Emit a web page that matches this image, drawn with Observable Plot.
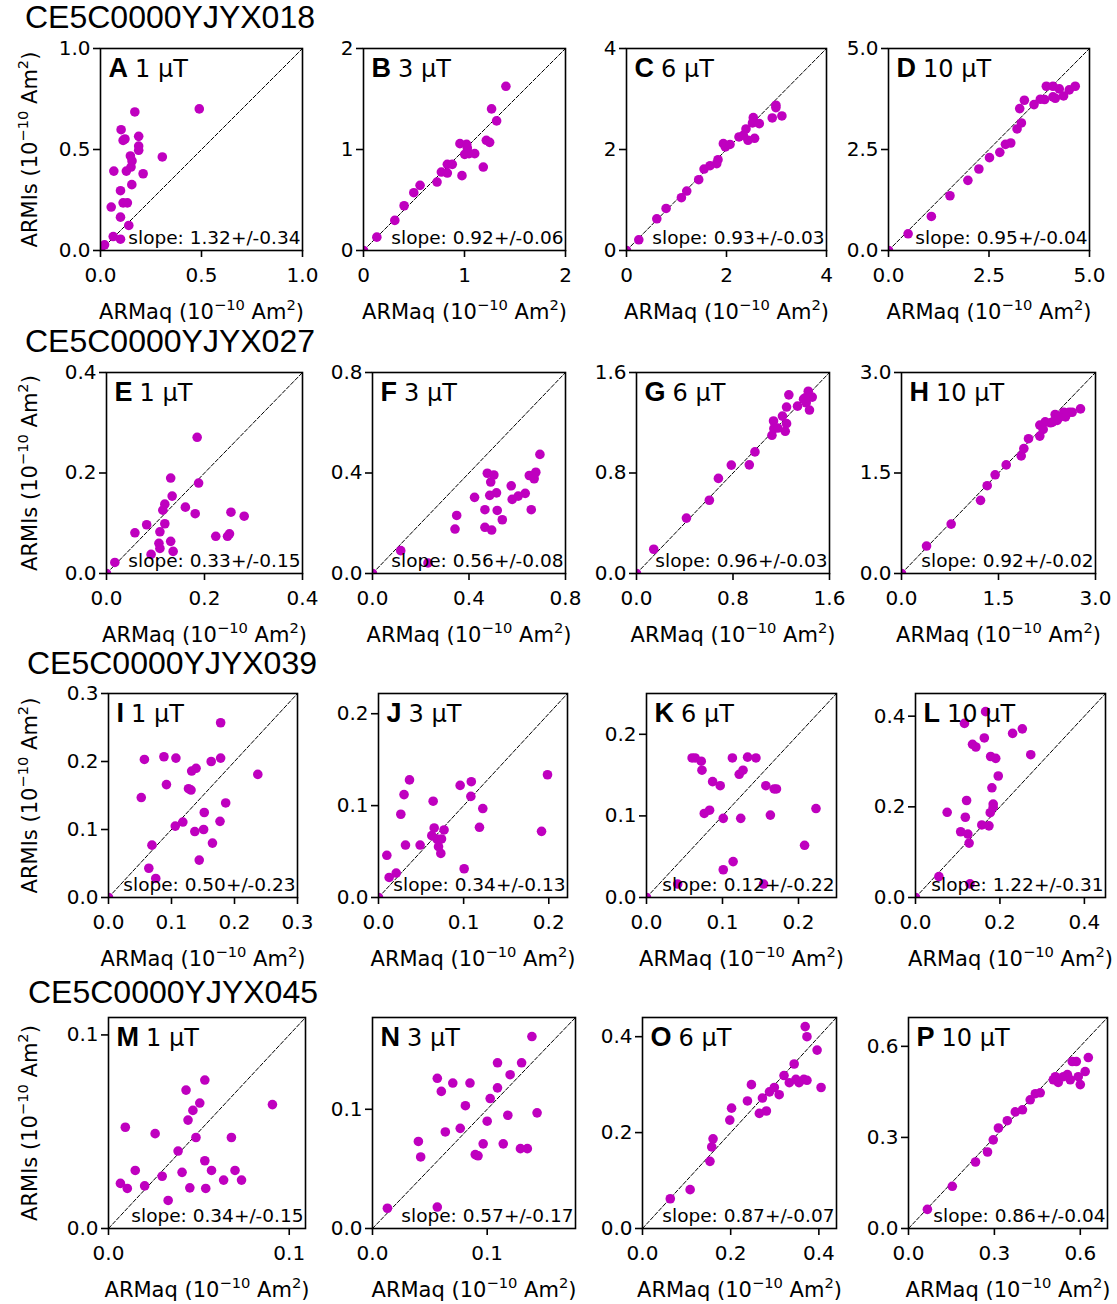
<!DOCTYPE html>
<html><head><meta charset="utf-8">
<script src="https://cdn.jsdelivr.net/npm/d3@7"></script>
<script src="https://cdn.jsdelivr.net/npm/@observablehq/plot@0.6"></script>
<style>
body{margin:0;background:#fff;}
#root{position:relative;width:1117px;height:1304px;overflow:hidden;background:#fff;}
.title{position:absolute;font-family:"Liberation Sans",Arial,sans-serif;font-size:32px;line-height:0.75;white-space:nowrap;color:#000;}
.panel{position:absolute;}
</style></head><body><div id="root"></div>
<script>
// ---------- data ----------
const samples = ["CE5C0000YJYX018", "CE5C0000YJYX027", "CE5C0000YJYX039", "CE5C0000YJYX045"];
const letters = ["A","B","C","D","E","F","G","H","I","J","K","L","M","N","O","P"];
const fields = [1, 3, 6, 10];
const slopes = ["1.32+/-0.34","0.92+/-0.06","0.93+/-0.03","0.95+/-0.04",
                "0.33+/-0.15","0.56+/-0.08","0.96+/-0.03","0.92+/-0.02",
                "0.50+/-0.23","0.34+/-0.13","0.12+/-0.22","1.22+/-0.31",
                "0.34+/-0.15","0.57+/-0.17","0.87+/-0.07","0.86+/-0.04"];
const limits = [1, 2, 4, 5, 0.4, 0.8, 1.6, 3, 0.3, 0.222, 0.25, 0.45, 0.109, 0.177, 0.44, 0.695];
const tickValues = [[0,0.5,1],[0,1,2],[0,2,4],[0,2.5,5],
                    [0,0.2,0.4],[0,0.4,0.8],[0,0.8,1.6],[0,1.5,3],
                    [0,0.1,0.2,0.3],[0,0.1,0.2],[0,0.1,0.2],[0,0.2,0.4],
                    [0,0.1],[0,0.1],[0,0.2,0.4],[0,0.3,0.6]];
const tickFormats = [".1f","d","d",".1f",".1f",".1f",".1f",".1f",".1f",".1f",".1f",".1f",".1f",".1f",".1f",".1f"];
// label pieces: [text, isSuperscript]
const xLabelParts = [["ARMaq (10", false], ["\u221210", true], [" Am", false], ["2", true], [")", false]];
const yLabelParts = [["ARMIs (10", false], ["\u221210", true], [" Am", false], ["2", true], [")", false]];
const xLabel = xLabelParts.map(p => p[0]).join("");
const yLabel = yLabelParts.map(p => p[0]).join("");

const aX = [0,0.02,0.063,0.099,0.066,0.053,0.099,0.099,0.102,0.112,0.121,0.112,0.133,0.140,0.128,0.148,0.156,0.151,0.155,0.170,0.189,0.189,0.189,0.211,0.306,0.489];
const aY = [0,0.028,0.069,0.056,0.393,0.215,0.165,0.296,0.598,0.545,0.552,0.236,0.236,0.124,0.393,0.468,0.443,0.413,0.326,0.686,0.565,0.517,0.496,0.380,0.463,0.701];
const bX = [0,0.132,0.31,0.402,0.498,0.56,0.728,0.771,0.83,0.83,0.879,0.975,0.955,1.021,1.028,1.002,1.045,1.101,1.186,1.216,1.249,1.268,1.318,1.41];
const bY = [0,0.132,0.298,0.443,0.572,0.645,0.678,0.777,0.853,0.767,0.853,0.741,1.058,1.051,1.015,0.952,0.959,0.959,0.826,1.091,1.071,1.402,1.283,1.626];
const cX = [0,0.246,0.606,0.792,1.098,1.205,1.444,1.551,1.671,1.804,1.830,1.937,1.977,2.07,2.25,2.336,2.39,2.43,2.562,2.536,2.52,2.656,2.915,2.988,2.988,3.108];
const cY = [0,0.212,0.628,0.833,1.045,1.177,1.402,1.613,1.679,1.719,1.798,2.116,2.05,2.10,2.248,2.281,2.407,2.182,2.222,2.631,2.526,2.512,2.625,2.876,2.83,2.664];
const dX = [0,0.488,1.066,1.529,1.975,2.248,2.512,2.769,2.909,3.041,3.198,3.306,3.264,3.38,3.62,3.777,3.884,3.926,4.091,4.091,4.149,4.248,4.355,4.496,4.645];
const dY = [0,0.413,0.843,1.355,1.736,2.017,2.298,2.43,2.628,2.661,3.008,3.157,3.512,3.719,3.612,3.744,3.736,4.066,4.066,3.802,3.769,4.0,3.826,3.975,4.066];
const eX = [0,0.017,0.058,0.082,0.091,0.107,0.109,0.109,0.115,0.119,0.119,0.131,0.131,0.134,0.136,0.161,0.181,0.185,0.188,0.223,0.247,0.251,0.254,0.281];
const eY = [0,0.022,0.081,0.097,0.038,0.060,0.083,0.050,0.126,0.138,0.099,0.190,0.064,0.154,0.044,0.132,0.119,0.271,0.180,0.074,0.074,0.079,0.122,0.114];
const fX = [0,0.117,0.23,0.342,0.349,0.423,0.466,0.466,0.476,0.486,0.49,0.494,0.503,0.514,0.517,0.538,0.575,0.579,0.604,0.633,0.658,0.65,0.669,0.677,0.67,0.694];
const fY = [0,0.091,0.042,0.177,0.231,0.303,0.254,0.184,0.399,0.311,0.364,0.173,0.392,0.321,0.251,0.214,0.349,0.295,0.308,0.319,0.254,0.39,0.39,0.403,0.377,0.474];
const gX = [0,0.143,0.414,0.604,0.679,0.786,0.935,0.982,1.123,1.136,1.139,1.172,1.21,1.233,1.244,1.244,1.263,1.335,1.385,1.407,1.424,1.434,1.457,1.399];
const gY = [0,0.193,0.441,0.583,0.757,0.863,0.865,0.968,1.100,1.214,1.153,1.158,1.253,1.132,1.193,1.325,1.422,1.332,1.388,1.359,1.451,1.301,1.404,1.398];
const hX = [0,0.387,0.768,1.222,1.325,1.448,1.619,1.851,1.892,1.964,2.139,2.139,2.191,2.222,2.304,2.335,2.376,2.407,2.438,2.510,2.536,2.593,2.639,2.768];
const hY = [0,0.41,0.737,1.092,1.31,1.473,1.621,1.755,1.864,2.012,2.051,2.215,2.150,2.264,2.249,2.259,2.373,2.284,2.328,2.407,2.338,2.407,2.407,2.457];
const iX = [0,0.064,0.069,0.075,0.052,0.057,0.088,0.092,0.107,0.106,0.118,0.127,0.131,0.132,0.139,0.137,0.144,0.151,0.152,0.163,0.165,0.177,0.178,0.178,0.186,0.237];
const iY = [0,0.043,0.077,0.028,0.147,0.203,0.207,0.166,0.205,0.105,0.111,0.160,0.158,0.186,0.190,0.097,0.055,0.100,0.125,0.200,0.080,0.112,0.205,0.257,0.139,0.181];
const jX = [0,0.0098,0.0125,0.0208,0.0262,0.030,0.0317,0.0364,0.0489,0.0642,0.0626,0.0654,0.0685,0.0705,0.0732,0.074,0.077,0.1006,0.0959,0.1085,0.109,0.1186,0.1225,0.1915,0.1985];
const jY = [0,0.0459,0.0218,0.0266,0.0906,0.112,0.0571,0.128,0.0571,0.1048,0.0673,0.0757,0.0637,0.0553,0.048,0.0637,0.0735,0.0313,0.122,0.110,0.126,0.0764,0.0968,0.072,0.1336];
const kX = [0,0.041,0.060,0.064,0.072,0.073,0.076,0.083,0.087,0.097,0.101,0.101,0.113,0.114,0.122,0.124,0.127,0.133,0.144,0.157,0.154,0.163,0.168,0.171,0.208,0.223];
const kY = [0,0.0165,0.171,0.171,0.167,0.156,0.103,0.107,0.142,0.137,0.097,0.034,0.171,0.044,0.151,0.097,0.156,0.172,0.171,0.137,0.0165,0.101,0.133,0.133,0.064,0.109];
const lX = [0,0.0554,0.075,0.107,0.116,0.118,0.121,0.124,0.127,0.129,0.135,0.143,0.157,0.163,0.166,0.174,0.177,0.178,0.181,0.184,0.184,0.190,0.196,0.230,0.253,0.273];
const lY = [0,0.046,0.188,0.145,0.384,0.177,0.214,0.14,0.12,0.03,0.338,0.332,0.16,0.352,0.41,0.158,0.187,0.311,0.242,0.206,0.199,0.307,0.268,0.362,0.372,0.315];
const mX = [0.0066,0.0093,0.0104,0.0148,0.020,0.0258,0.0297,0.033,0.0385,0.0407,0.0429,0.044,0.045,0.0467,0.0484,0.0505,0.0533,0.0533,0.0538,0.057,0.0637,0.068,0.070,0.0736,0.0907];
const mY = [0.0233,0.0523,0.0207,0.030,0.022,0.049,0.027,0.0145,0.040,0.029,0.0715,0.056,0.021,0.061,0.047,0.0648,0.0767,0.035,0.0207,0.030,0.025,0.047,0.030,0.025,0.064];
const nX = [0.013,0.040,0.042,0.0565,0.0565,0.060,0.0635,0.070,0.0765,0.081,0.085,0.0896,0.092,0.0965,0.100,0.1026,0.109,0.109,0.114,0.118,0.120,0.129,0.135,0.130,0.139,0.1435];
const nY = [0.017,0.073,0.060,0.018,0.126,0.115,0.081,0.122,0.084,0.103,0.122,0.062,0.061,0.071,0.090,0.109,0.118,0.139,0.071,0.095,0.129,0.067,0.067,0.139,0.161,0.097];
const oX = [0.063,0.108,0.153,0.157,0.160,0.198,0.202,0.238,0.247,0.265,0.272,0.281,0.288,0.299,0.310,0.321,0.333,0.344,0.348,0.355,0.366,0.369,0.373,0.373,0.396,0.405];
const oY = [0.062,0.081,0.140,0.170,0.187,0.226,0.251,0.266,0.300,0.240,0.272,0.245,0.285,0.294,0.279,0.319,0.304,0.343,0.311,0.304,0.311,0.421,0.400,0.309,0.372,0.294];
const pX = [0.066,0.153,0.234,0.276,0.296,0.314,0.345,0.373,0.398,0.425,0.443,0.460,0.506,0.513,0.523,0.541,0.555,0.572,0.586,0.593,0.600,0.617,0.628,0.565];
const pY = [0.063,0.139,0.219,0.252,0.292,0.331,0.355,0.384,0.391,0.424,0.444,0.447,0.490,0.500,0.481,0.500,0.507,0.550,0.550,0.500,0.474,0.517,0.563,0.490];

const seriesX = [aX,bX,cX,dX,eX,fX,gX,hX,iX,jX,kX,lX,mX,nX,oX,pX];
const seriesY = [aY,bY,cY,dY,eY,fY,gY,hY,iY,jY,kY,lY,mY,nY,oY,pY];

// ---------- layout (page pixels of each frame) ----------
const rowBox = [[48,250],[372,573],[693,897],[1017,1228]];
const colBox = [
  [[100,302],[363,565],[626,826],[888,1089]],
  [[106,302],[372,565],[636,829],[901,1095]],
  [[108,297],[378,567],[646,836],[915,1105]],
  [[108,305],[372,575],[642,836],[908,1107]]
];
const titleBaseline = [28, 352, 674, 1003];
const titleLeft = [25, 25, 27, 28];

const root = document.getElementById("root");
const ctx = document.createElement("canvas").getContext("2d");
function textWidth(t, font){ ctx.font = font; return ctx.measureText(t).width; }

const COLOR = "#bf00bf";
const LETTER_FONT = "Liberation Sans";
const LETTER_SIZE = 27;
const LABEL_SIZE = 21;
const SVGNS = "http://www.w3.org/2000/svg";

function richText(svg, plain, parts, size) {
  svg.querySelectorAll("text").forEach(t => {
    if (t.textContent !== plain) return;
    while (t.firstChild) t.removeChild(t.firstChild);
    let shift = 0;
    parts.forEach(([s, sup]) => {
      const ts = document.createElementNS(SVGNS, "tspan");
      ts.textContent = s;
      const target = sup ? -0.42 * size : 0;
      if (target !== shift) { ts.setAttribute("dy", target - shift); shift = target; }
      if (sup) ts.setAttribute("font-size", 0.7 * size);
      t.appendChild(ts);
    });
  });
}

samples.forEach((s, r) => {
  const d = document.createElement("div");
  d.className = "title";
  d.textContent = s;
  d.style.left = titleLeft[r] + "px";
  // line-height 0.75 -> baseline at 0.7215em from top
  d.style.top = (titleBaseline[r] - 0.7215 * 32) + "px";
  root.appendChild(d);
});

for (let k = 0; k < 16; k++) {
  const r = Math.floor(k / 4), c = k % 4;
  const [ft, fb] = rowBox[r];
  const [fl, fr] = colBox[r][c];
  const w = fr - fl, h = fb - ft;
  const ML = c === 0 ? fl : 60, MT = 40, MR = 15, MB = 80;
  const max = limits[k];
  const pts = seriesX[k].map((x, i) => ({x, y: seriesY[k][i]}));
  const diag = [{v: 0}, {v: max}];
  const fmt = d3.format(tickFormats[k]);
  const letterW = textWidth(letters[k], `bold ${LETTER_SIZE}px "${LETTER_FONT}"`);
  const marks = [
    Plot.line(diag, {x: "v", y: "v", stroke: "black", strokeWidth: 1, strokeDasharray: "4,2"}),
    Plot.dot(pts, {x: "x", y: "y", r: 4.8, fill: COLOR, clip: true}),
    Plot.frame({stroke: "black", strokeWidth: 1.6}),
    Plot.axisX({ticks: tickValues[k], tickFormat: fmt, tickSize: 7, tickPadding: 10, fontSize: 20, strokeWidth: 1.6, label: null}),
    Plot.axisY({ticks: tickValues[k], tickFormat: fmt, tickSize: 7, tickPadding: 3, fontSize: 20, strokeWidth: 1.6, label: null}),
    Plot.text([xLabel], {frameAnchor: "bottom", dy: 68, lineAnchor: "bottom", textAnchor: "middle", fontSize: LABEL_SIZE}),
    Plot.text([letters[k]], {frameAnchor: "top-left", dx: 8, dy: 28, lineAnchor: "bottom", textAnchor: "start", fontSize: LETTER_SIZE, fontWeight: "bold", fontFamily: LETTER_FONT}),
    Plot.text([fields[c] + " \u03BCT"], {frameAnchor: "top-left", dx: 8 + letterW + 7, dy: 28, lineAnchor: "bottom", textAnchor: "start", fontSize: 24}),
    Plot.text(["slope: " + slopes[k]], {frameAnchor: "bottom-right", dx: -2, dy: -7, lineAnchor: "bottom", textAnchor: "end", fontSize: 18.5})
  ];
  if (c === 0) {
    marks.push(Plot.text([yLabel], {frameAnchor: "left", dx: -(fl - 30), rotate: -90, textAnchor: "middle", lineAnchor: "middle", fontSize: LABEL_SIZE}));
  }
  const svg = Plot.plot({
    width: ML + w + MR, height: MT + h + MB,
    marginLeft: ML, marginTop: MT, marginRight: MR, marginBottom: MB,
    style: {background: "transparent", overflow: "visible", fontFamily: "DejaVu Sans", maxWidth: "none", color: "black"},
    x: {domain: [0, max]},
    y: {domain: [0, max]},
    marks
  });
  richText(svg, xLabel, xLabelParts, LABEL_SIZE);
  richText(svg, yLabel, yLabelParts, LABEL_SIZE);
  svg.classList.add("panel");
  svg.style.position = "absolute";
  svg.style.left = (fl - ML) + "px";
  svg.style.top = (ft - MT) + "px";
  root.appendChild(svg);
}
</script>
</body></html>
